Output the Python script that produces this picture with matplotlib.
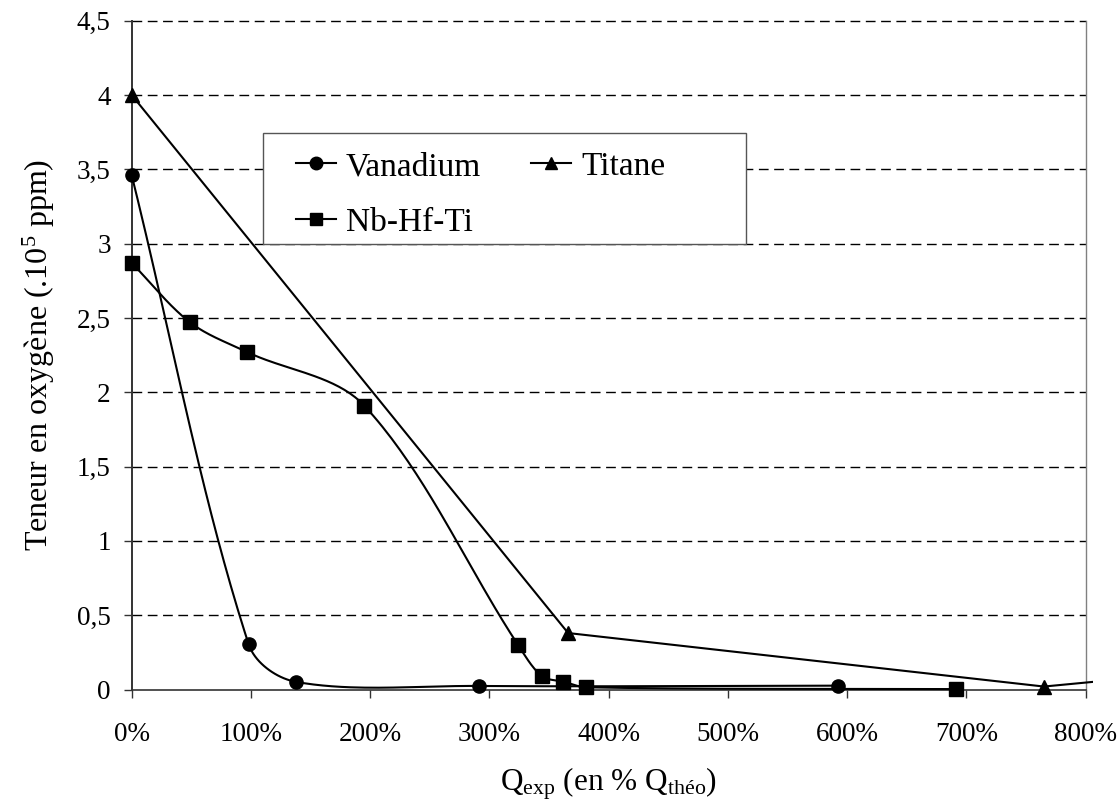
import numpy as np
import matplotlib
matplotlib.use("Agg")
import matplotlib.pyplot as plt
from matplotlib.patches import Rectangle
from matplotlib.ticker import FuncFormatter

plt.rcParams["font.family"] = ["Liberation Serif", "DejaVu Serif"]
plt.rcParams["mathtext.fontset"] = "custom"
plt.rcParams["mathtext.rm"] = "Liberation Serif"
plt.rcParams["mathtext.it"] = "Liberation Serif:italic"

# Data (x in % of Q_theo, y in 1e5 ppm)
vanadium_x = [0, 98, 137.5, 291, 592]
vanadium_y = [3.46, 0.306, 0.052, 0.024, 0.026]

titane_x = [0, 366, 765, 850]
titane_y = [4.0, 0.38, 0.02, 0.085]

nbhfti_x = [0, 49, 97, 195, 324, 344, 362, 381, 691]
nbhfti_y = [2.87, 2.47, 2.27, 1.91, 0.30, 0.09, 0.053, 0.015, 0.003]

x_ticks = [0, 100, 200, 300, 400, 500, 600, 700, 800]
y_ticks = [0, 0.5, 1, 1.5, 2, 2.5, 3, 3.5, 4, 4.5]

# approx pixel scale of the axes, used so smoothing works in screen space
SX, SY = 1.1925, 148.6


def smooth(xs, ys, n=40):
    # chord-length weighted bezier smoothing (spreadsheet "smoothed line")
    p = np.column_stack([np.array(xs) * SX, np.array(ys) * SY]).astype(float)
    k = len(p)
    d = np.hypot(*np.diff(p, axis=0).T)
    tang = np.zeros_like(p)
    for i in range(k):
        a = p[i - 1] if i > 0 else p[i]
        b = p[i + 1] if i < k - 1 else p[i]
        da = d[i - 1] if i > 0 else 0
        db = d[i] if i < k - 1 else 0
        tang[i] = (b - a) / (da + db)
    pts = []
    t = np.linspace(0, 1, n)[:, None]
    for i in range(k - 1):
        p1, p2 = p[i], p[i + 1]
        c1 = p1 + tang[i] * d[i] / 3
        c2 = p2 - tang[i + 1] * d[i] / 3
        seg = ((1 - t) ** 3) * p1 + 3 * ((1 - t) ** 2) * t * c1 + 3 * (1 - t) * t ** 2 * c2 + t ** 3 * p2
        pts.append(seg if i == 0 else seg[1:])
    pts = np.vstack(pts)
    return pts[:, 0] / SX, pts[:, 1] / SY


fig = plt.figure(figsize=(11.19, 8.0), dpi=100)
ax = fig.add_axes([0.1177, 0.1381, 0.8525, 0.836])
ax.set_xlim(0, 800)
ax.set_ylim(0, 4.5)

clip = Rectangle((-0.02, -0.03), 1.028, 1.06, transform=ax.transAxes)

for yv in y_ticks[1:]:
    ax.axhline(yv, color="black", lw=1.0, ls=(0, (7, 4)), clip_on=False, zorder=1)

lw = 1.5
sx, sy = smooth(vanadium_x, vanadium_y)
l, = ax.plot(sx, sy, color="black", lw=lw, zorder=3)
l.set_clip_path(clip)
m, = ax.plot(vanadium_x, vanadium_y, ls="none", marker="o", ms=9.5, color="black", zorder=4)
m.set_clip_path(clip)

l, = ax.plot(titane_x, titane_y, color="black", lw=lw, zorder=3)
l.set_clip_path(clip)
m, = ax.plot(titane_x, titane_y, ls="none", marker="^", ms=10, color="black", zorder=4)
m.set_clip_path(clip)

sx, sy = smooth(nbhfti_x, nbhfti_y)
l, = ax.plot(sx, sy, color="black", lw=lw, zorder=3)
l.set_clip_path(clip)
m, = ax.plot(nbhfti_x, nbhfti_y, ls="none", marker="s", ms=9.5, color="black", zorder=4)
m.set_clip_path(clip)

ax.set_xticks(x_ticks)
ax.set_yticks(y_ticks)
ax.xaxis.set_major_formatter(FuncFormatter(lambda v, p: "%d%%" % round(v)))
ax.yaxis.set_major_formatter(FuncFormatter(lambda v, p: ("%g" % v).replace(".", ",")))
ax.tick_params(axis="both", direction="out", length=6, width=1, labelsize=19.5, color="#333333")
ax.tick_params(axis="x", pad=17.5)
ax.tick_params(axis="y", pad=9)

ax.spines["top"].set_visible(False)
ax.spines["left"].set_color("#333333")
ax.spines["left"].set_linewidth(1.4)
ax.spines["bottom"].set_color("#333333")
ax.spines["bottom"].set_linewidth(1.2)
ax.spines["right"].set_color("#808080")
ax.spines["right"].set_linewidth(1.0)

ax.set_ylabel("Teneur en oxygène (.10$^5$ ppm)", fontsize=23, labelpad=14)
ax.set_xlabel("Q$_{\\rm exp}$ (en % Q$_{\\rm théo}$)", fontsize=22.5, labelpad=13)

# legend frame (fixed size box)
fig.patches.append(Rectangle((263.3 / 1119, 1 - 244 / 800), (745.7 - 263.3) / 1119, (244 - 133.3) / 800,
                             transform=fig.transFigure, facecolor="white", edgecolor="#555555",
                             lw=1.0, zorder=5))
h = [plt.Line2D([], [], color="black", lw=lw, marker="o", ms=9),
     plt.Line2D([], [], color="black", lw=lw, marker="s", ms=9),
     plt.Line2D([], [], color="black", lw=lw, marker="^", ms=9)]
leg = fig.legend(h, ["Vanadium", "Nb-Hf-Ti", "Titane"], ncol=2, loc="upper left",
                 bbox_to_anchor=(0.2646, 0.8105), frameon=False, fontsize=24, numpoints=1,
                 handlelength=1.2, handletextpad=0.3, columnspacing=1.5, labelspacing=0.75,
                 borderpad=0.0, borderaxespad=0.0)
leg.set_zorder(6)

fig.savefig("out.png", dpi=100)
